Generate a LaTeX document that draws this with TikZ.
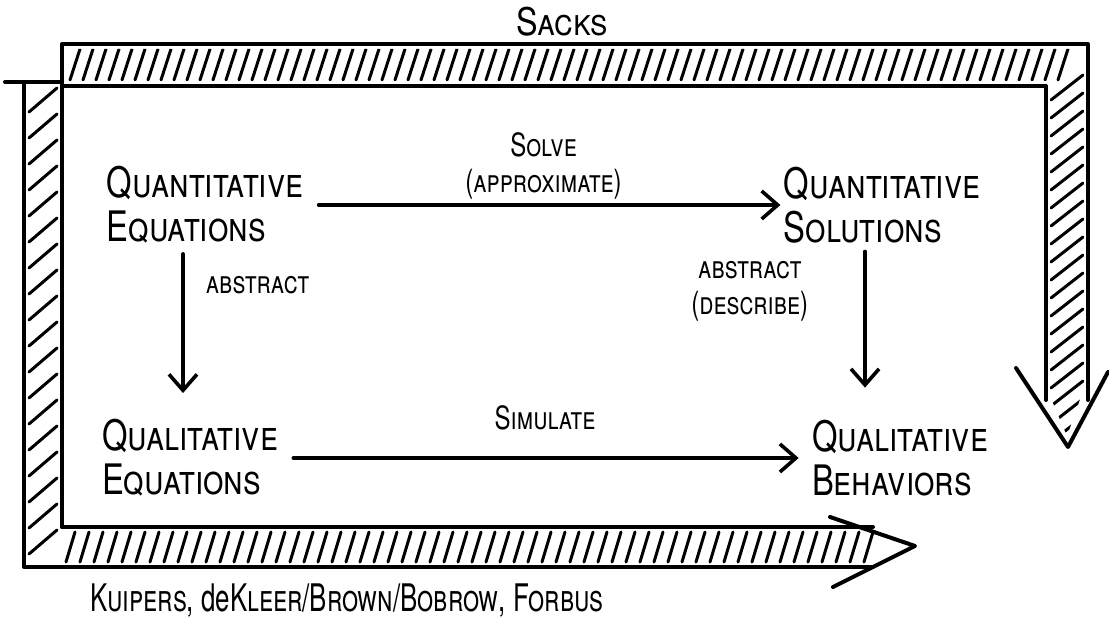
\documentclass[tikz,border=0pt]{standalone}
\usepackage{fontspec}
\setmainfont{TeX Gyre Heros}
\usetikzlibrary{arrows.meta, positioning}
\tikzset{
  sketch/.style={x=0.5pt, y=-0.5pt, line cap=round, line join=round},
  band/.style={line width=2pt},
  hatch/.style={line width=1.5pt},
  flow/.style={-{Straight Barb[length=8pt, width=14pt]}, line width=1.8pt},
  big/.style={font=\fontsize{21}{22}\selectfont, xscale=0.78, align=left, inner sep=2pt},
  lbl/.style={font=\fontsize{16}{18}\selectfont, xscale=0.75, inner sep=1pt, align=center},
  who/.style={font=\fontsize{19}{22}\selectfont, xscale=0.68, inner sep=1pt}
}

\begin{document}
\begin{tikzpicture}[sketch]
    \useasboundingbox (0,0) rectangle (1109,624);

    % hatched frame: top band turning down on the right
    \draw[band] (62,527) -- (62,44) -- (1088,44) -- (1088,400);
    \draw[band] (62,86) -- (1046,86) -- (1046,400);
    \draw[band] (1016,368) -- (1068,447) -- (1108,372);
    \begin{scope}
      \clip (67,49) -- (1084,49) -- (1084,388) -- (1067,436) -- (1050,396)
            -- (1050,81) -- (67,81) -- cycle;
      \foreach \x in {70,83,...,1062} {\draw[hatch] (\x,80) -- ++(10,-31);}
      \foreach \y in {100,118,...,460} {\draw[hatch] (1051,\y) -- ++(32,-25);}
    \end{scope}

    % left band turning right along the bottom
    \draw[band] (5,82) -- (62,82);
    \draw[band] (24,82) -- (24,567) -- (873,567);
    \draw[band] (62,527) -- (873,527);
    \draw[band] (830,517) -- (915,546) -- (833,587);
    \foreach \y in {112,138,...,560} {\draw[hatch] (29,\y) -- ++(28,-24);}
    \foreach \x in {66,80,...,864} {\draw[hatch] (\x,562) -- ++(9,-30);}

    \node[who, xscale=1.25] (sacks) at (562,22) {\textsc{Sacks}};
    \node[who] (refs) at (347,600) {\textsc{Kuipers}, de\textsc{Kleer/Brown/Bobrow}, \textsc{Forbus}};

    % the four stages
    \node[big] (qe) at (205,205) {\textsc{Quantitative}\\\textsc{Equations}};
    \node[big] (qs) at (882,205) {\textsc{Quantitative}\\\textsc{Solutions}};
    \node[big] (ql) at (190,458) {\textsc{Qualitative}\\\textsc{Equations}};
    \node[big] (qb) at (900,458) {\textsc{Qualitative}\\\textsc{Behaviors}};

    \draw[flow, shorten <=6pt, shorten >=0pt] (qe) -- node[lbl, above=1pt]
         {\textsc{Solve}\\\textsc{(approximate)}} (qs);
    \draw[flow, shorten <=3pt, shorten >=11pt] ([xshift=-11pt]qe.south)
         -- node[lbl, right=10pt, pos=0.22] {\textsc{abstract}} ([xshift=-3.5pt]ql.north);
    \draw[flow, shorten <=2pt, shorten >=14pt] ([xshift=-8.5pt]qs.south)
         -- node[lbl, left=27pt, pos=0.26] {\textsc{abstract}\\\textsc{(describe)}} ([xshift=-17.5pt]qb.north);
    \draw[flow, shorten <=6pt, shorten >=5pt] (ql) -- node[lbl, above=12pt]
         {\textsc{Simulate}} (qb);
\end{tikzpicture}
\end{document}
